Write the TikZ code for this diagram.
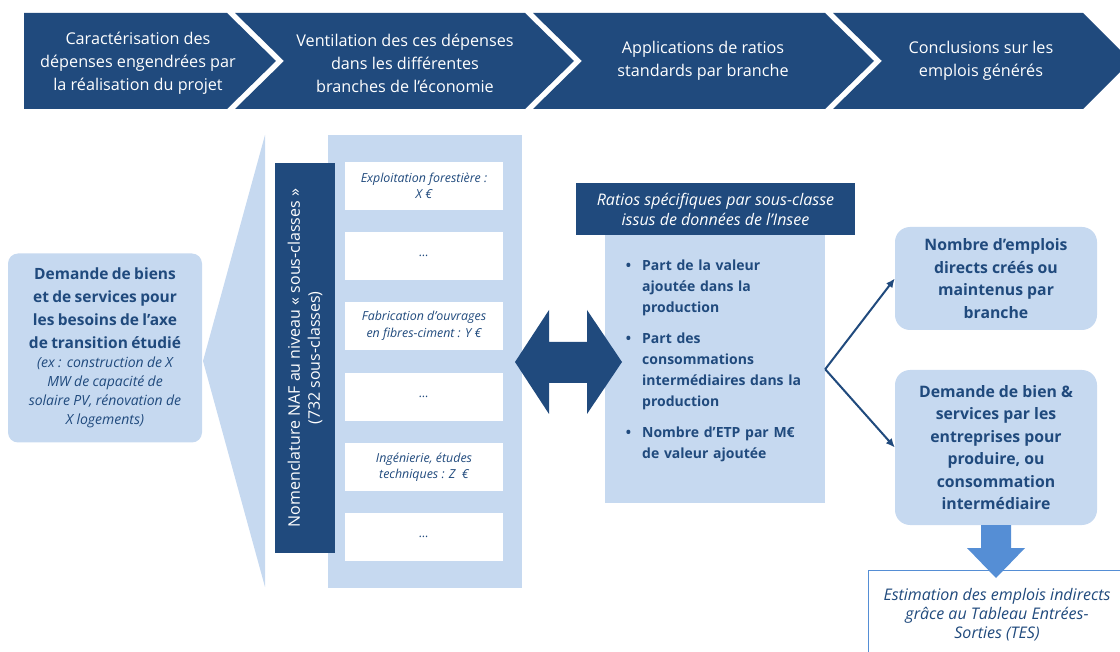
\documentclass[tikz,border=0pt]{standalone}
\usepackage{fontspec}
\setmainfont{Open Sans}
\usetikzlibrary{arrows.meta}

\definecolor{naviblue}{RGB}{32,74,125}
\definecolor{paleblue}{RGB}{198,217,240}
\definecolor{midblue}{RGB}{85,142,213}

\begin{document}
\begin{tikzpicture}[x=1pt, y=-1pt,
  every node/.style={inner sep=0pt, align=center},
  stage/.style={text=white, font=\fontsize{16.2}{23}\selectfont},
  sector/.style={fill=white, minimum width=158pt, minimum height=48pt, text=naviblue, font=\itshape\fontsize{12.4}{16.5}\selectfont},
  ratio/.style={anchor=north west, text width=180pt, align=left, text=naviblue, font=\bfseries\fontsize{14}{21}\selectfont},
  result/.style={fill=paleblue, rounded corners=15pt, minimum width=202pt, text=naviblue, font=\bfseries\fontsize{15.8}{22.5}\selectfont}]
	\useasboundingbox (0,0) rectangle (1120,652);

	% steps
	\fill[naviblue] (24,13) -- (227,13) -- (276,61) -- (227,109) -- (24,109) -- cycle;
	\fill[naviblue] (235,13) -- (525,13) -- (574,61) -- (525,109) -- (235,109) -- (284,61) -- cycle;
	\fill[naviblue] (533,13) -- (825,13) -- (874,61) -- (825,109) -- (533,109) -- (582,61) -- cycle;
	\fill[naviblue] (833,13) -- (1083,13) -- (1120,50) -- (1120,72) -- (1083,109) -- (833,109) -- (882,61) -- cycle;

	\node[stage] (step1) at (138,63) {Caractérisation des\\dépenses engendrées par\\la réalisation du projet};
	\node[stage] (step2) at (405,63) {Ventilation des ces dépenses\\dans les différentes\\branches de l’économie};
	\node[stage] (step3) at (703,61) {Applications de ratios\\standards par branche};
	\node[stage] (step4) at (981,61) {Conclusions sur les\\emplois générés};

	% demand
	\fill[paleblue] (203,361) -- (265,135) -- (265,587) -- cycle;
	\node[fill=paleblue, rounded corners=10pt, minimum width=194pt, minimum height=189pt, text width=190pt, text=naviblue] (demand) at (105,348)
		{{\bfseries\fontsize{15.5}{23}\selectfont Demande de biens\\et de services pour\\les besoins de l’axe\\de transition étudié\par}%
		 {\itshape\fontsize{14}{19}\selectfont (ex : construction de X\\MW de capacité de\\solaire PV, rénovation de\\X logements)\par}};

	% NAF
	\node[fill=paleblue, minimum width=194pt, minimum height=453pt] (naf) at (425,361.5) {};
	\node[fill=naviblue, text=white, rotate=90, minimum width=390pt, minimum height=60pt, font=\fontsize{16}{20}\selectfont] (nomenc) at (305,358)
		{Nomenclature NAF au niveau « sous-classes »\\(732 sous-classes)};
	\foreach \y/\txt in {186/{Exploitation forestière :\\X €}, 256/{…}, 326/{Fabrication d’ouvrages\\en fibres-ciment : Y €},
		397/{…}, 467/{Ingénierie, études\\techniques : Z~~€}, 537/{…}}
		\node[sector] (sec\y) at (424,\y) {\txt};

	% ratios
	\node[fill=naviblue, text=white, minimum width=279pt, minimum height=52pt, font=\itshape\fontsize{16}{20}\selectfont] (ratiohead) at (715.5,209)
		{Ratios spécifiques par sous-classe\\issus de données de l’Insee};
	\node[fill=paleblue, anchor=north, minimum width=220pt, minimum height=268pt] (ratiobox) at (715,235) {};
	\foreach \y/\txt in {260/{Part de la valeur\\ajoutée dans la\\production}, 333/{Part des\\consommations\\intermédiaires dans la\\production},
		427/{Nombre d’ETP par M€\\de valeur ajoutée}}
		\node[ratio] (item\y) at (642,\y) {\makebox[0pt][r]{\textbullet\hspace{11pt}}\txt};

	% double arrow
	\fill[naviblue] (515,362) -- (549,310) -- (549,342) -- (587,342) -- (587,310) -- (622,362) -- (587,414) -- (587,383) -- (549,383) -- (549,414) -- cycle;

	% results
	\node[result, minimum height=103pt] (direct) at (996,278.5) {Nombre d’emplois\\directs créés ou\\maintenus par\\branche};
	\node[result, minimum height=155pt] (indirect) at (996,447.5) {Demande de bien \&\\services par les\\entreprises pour\\produire, ou\\consommation\\intermédiaire};
	\draw[naviblue, line width=2pt, -{Latex[length=9pt,width=8pt]}] (ratiobox.east) -- (direct.west);
	\draw[naviblue, line width=2pt, -{Latex[length=9pt,width=8pt]}] (ratiobox.east) -- (indirect.west);

	\node[draw=midblue, fill=white, line width=0.8pt, minimum width=258pt, minimum height=90pt, text=naviblue, font=\itshape\fontsize{16}{19}\selectfont] (tes) at (997,615)
		{Estimation des emplois indirects\\grâce au Tableau Entrées-\\Sorties (TES)};
	\fill[midblue] (981,525) -- (1011,525) -- (1011,548) -- (1025,548) -- (996,578) -- (967,548) -- (981,548) -- cycle;
\end{tikzpicture}
\end{document}
